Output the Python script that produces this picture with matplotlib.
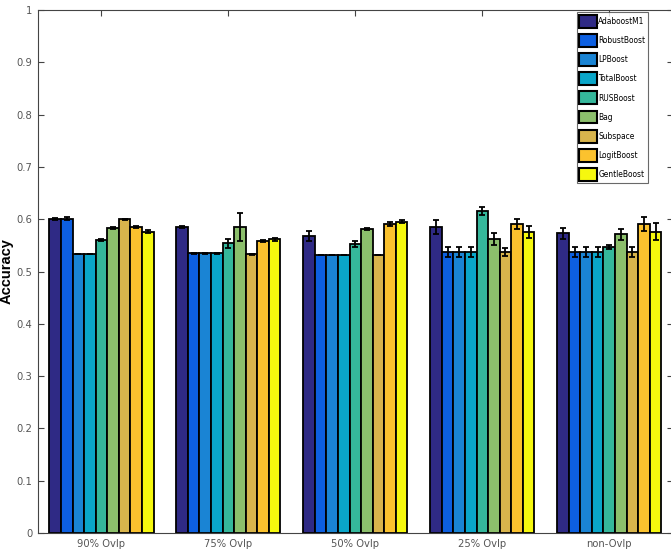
import matplotlib
matplotlib.use("Agg")
import matplotlib.pyplot as plt
from matplotlib import font_manager
import numpy as np

groups = ["90% Ovlp", "75% Ovlp", "50% Ovlp", "25% Ovlp", "non-Ovlp"]
methods = ["AdaboostM1", "RobustBoost", "LPBoost", "TotalBoost", "RUSBoost",
           "Bag", "Subspace", "LogitBoost", "GentleBoost"]

# rows: groups, columns: methods
acc = [
    [0.600, 0.601, 0.533, 0.533, 0.560, 0.583, 0.600, 0.585, 0.576],
    [0.585, 0.535, 0.535, 0.535, 0.554, 0.585, 0.533, 0.558, 0.562],
    [0.568, 0.532, 0.532, 0.532, 0.553, 0.581, 0.532, 0.591, 0.595],
    [0.585, 0.537, 0.537, 0.537, 0.616, 0.562, 0.537, 0.591, 0.576],
    [0.573, 0.537, 0.537, 0.537, 0.547, 0.571, 0.537, 0.591, 0.576],
]
err = [
    [0.002, 0.003, 0.000, 0.000, 0.002, 0.002, 0.001, 0.002, 0.003],
    [0.002, 0.001, 0.001, 0.001, 0.009, 0.027, 0.001, 0.002, 0.003],
    [0.009, 0.000, 0.000, 0.000, 0.006, 0.002, 0.000, 0.003, 0.003],
    [0.013, 0.010, 0.010, 0.010, 0.008, 0.011, 0.008, 0.010, 0.012],
    [0.011, 0.010, 0.010, 0.010, 0.004, 0.011, 0.010, 0.013, 0.016],
]
colors = ["#2f2a85", "#0d5fe0", "#1a84d4", "#0aa6c9", "#35b79b",
          "#8cbf6c", "#d8b44c", "#fbc22e", "#f6f80e"]

acc = np.array(acc)
err = np.array(err)

# pick a condensed font if available
names = {f.name for f in font_manager.fontManager.ttflist}
narrow = None
for cand in ["Liberation Sans Narrow", "DejaVu Sans Condensed"]:
    if cand in names:
        narrow = cand
        break
narrow_prop = dict(family=narrow) if narrow else dict(family="DejaVu Sans", stretch="condensed")

fig = plt.figure(figsize=(6.71, 5.59), dpi=100)
ax = fig.add_axes([0.0566, 0.0465, 0.946, 0.9355])

n = len(methods)
gw = 0.82
bw = gw / n
x = np.arange(1, len(groups) + 1)
for j in range(n):
    pos = x - gw / 2 + bw * (j + 0.5)
    ax.bar(pos, acc[:, j], width=bw, color=colors[j], edgecolor="black",
           linewidth=1.3, label=methods[j], zorder=2)
    ax.errorbar(pos, acc[:, j], yerr=err[:, j], fmt="none", ecolor="black",
                elinewidth=1.3, capsize=2.5, capthick=1.3, zorder=3)

ax.set_xlim(0.5, 5.5)
ax.set_ylim(0, 1)
ax.set_yticks(np.arange(0, 1.01, 0.1))
ax.set_yticklabels(["0", "0.1", "0.2", "0.3", "0.4", "0.5", "0.6", "0.7", "0.8", "0.9", "1"])
ax.set_xticks(x)
ax.set_xticklabels(groups)
ax.tick_params(axis="both", direction="in", top=True, right=True, length=4,
               width=0.8, colors="#444444", labelcolor="#555555", labelsize=8, pad=4)
for lab in ax.get_xticklabels() + ax.get_yticklabels():
    if narrow:
        lab.set_family(narrow)
    else:
        lab.set_stretch("condensed")
for s in ax.spines.values():
    s.set_color("#444444")
    s.set_linewidth(0.8)

ax.set_ylabel("Accuracy", fontsize=10.5, fontweight="bold",
              family=["Liberation Sans", "DejaVu Sans"])
ax.yaxis.set_label_coords(-0.038, 0.5)

leg = ax.legend(loc="upper right", bbox_to_anchor=(0.962, 0.997),
                prop=dict(size=6.0, **narrow_prop), fancybox=False, frameon=True,
                handlelength=2.2, handleheight=2.0, handletextpad=0.1,
                labelspacing=0.75, borderpad=0.3, borderaxespad=0.1)
leg.get_frame().set_edgecolor("#444444")
leg.get_frame().set_linewidth(0.8)
for h in leg.legend_handles:
    h.set_linewidth(1.5)

fig.savefig("out.png", dpi=100)
